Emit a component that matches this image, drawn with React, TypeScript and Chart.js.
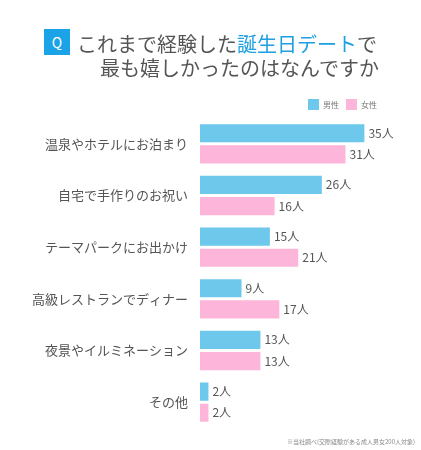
import React, { useEffect, useRef } from "react";
import { Chart, registerables } from "chart.js";

Chart.register(...registerables);

const categories = [
  "温泉やホテルにお泊まり",
  "自宅で手作りのお祝い",
  "テーマパークにお出かけ",
  "高級レストランでディナー",
  "夜景やイルミネーション",
  "その他",
];
const maleValues = [35, 26, 15, 9, 13, 2];
const femaleValues = [31, 16, 21, 17, 13, 2];
const seriesNames = ["男性", "女性"];
const unit = "人";

const BLUE = "#6DC8EC";
const PINK = "#FDB6D9";
const FONT = "'Noto Sans CJK JP', 'Noto Sans', sans-serif";

const valueLabels = {
  id: "valueLabels",
  afterDatasetsDraw(chart: any) {
    const ctx = chart.ctx;
    ctx.save();
    ctx.font = `12px ${FONT}`;
    ctx.fillStyle = "#555";
    ctx.textAlign = "left";
    ctx.textBaseline = "middle";
    chart.data.datasets.forEach((ds: any, di: number) => {
      const meta = chart.getDatasetMeta(di);
      meta.data.forEach((bar: any, i: number) => {
        ctx.fillText(`${ds.data[i]}${unit}`, bar.x + 3, bar.y);
      });
    });
    ctx.restore();
  },
};

export default function App() {
  const ref = useRef<HTMLCanvasElement>(null);
  useEffect(() => {
    const chart = new Chart(ref.current!, {
      type: "bar",
      data: {
        labels: categories,
        datasets: [
          {
            label: seriesNames[0],
            data: maleValues,
            backgroundColor: BLUE,
            borderColor: "#ffffff",
            borderWidth: 1,
            categoryPercentage: 0.82,
            barPercentage: 0.95,
          },
          {
            label: seriesNames[1],
            data: femaleValues,
            backgroundColor: PINK,
            borderColor: "#ffffff",
            borderWidth: 1,
            categoryPercentage: 0.82,
            barPercentage: 0.95,
          },
        ],
      },
      options: {
        indexAxis: "y",
        responsive: false,
        animation: false,
        layout: { padding: { top: 118, bottom: 22, left: 0, right: 32 } },
        plugins: {
          legend: { display: false },
          tooltip: { enabled: false },
          title: { display: false },
        },
        scales: {
          x: { display: false, min: 0, max: 40 },
          y: {
            grid: { display: false, drawTicks: false },
            border: { display: false },
            ticks: {
              padding: 12,
              color: "#555",
              font: { family: FONT, size: 13 },
            },
            afterFit: (scale: any) => {
              scale.width = 200;
            },
          },
        },
      },
      plugins: [valueLabels],
    });
    return () => chart.destroy();
  }, []);

  return (
    <div
      style={{
        position: "absolute",
        left: 0,
        top: 0,
        width: 421,
        height: 450,
        background: "#fff",
        fontFamily: FONT,
        overflow: "hidden",
      }}
    >
      <canvas ref={ref} width={421} height={450} style={{ position: "absolute", left: 0, top: 0 }} />
      <div
        style={{
          position: "absolute",
          left: 44,
          top: 29,
          width: 26,
          height: 26,
          background: "#1BA3E8",
          color: "#fff",
          fontSize: 14,
          lineHeight: "26px",
          textAlign: "center",
        }}
      >
        Q
      </div>
      <div
        style={{
          position: "absolute",
          left: 77,
          top: 30,
          fontSize: 20,
          lineHeight: "28px",
          color: "#555",
          whiteSpace: "nowrap",
        }}
      >
        これまで経験した<span style={{ color: "#1EA0E2" }}>誕生日デート</span>で
      </div>
      <div
        style={{
          position: "absolute",
          left: 100,
          top: 54,
          fontSize: 20,
          lineHeight: "28px",
          color: "#555",
          whiteSpace: "nowrap",
        }}
      >
        最も嬉しかったのはなんですか
      </div>
      <div
        style={{
          position: "absolute",
          left: 308,
          top: 99,
          display: "flex",
          alignItems: "center",
          fontSize: 8,
          color: "#777",
          whiteSpace: "nowrap",
        }}
      >
        <span style={{ display: "inline-block", width: 11, height: 11, background: BLUE, marginRight: 4 }} />
        <span style={{ marginRight: 7 }}>{seriesNames[0]}</span>
        <span style={{ display: "inline-block", width: 11, height: 11, background: PINK, marginRight: 4 }} />
        <span>{seriesNames[1]}</span>
      </div>
      <div
        style={{
          position: "absolute",
          right: 6,
          top: 438,
          fontSize: 6,
          lineHeight: "8px",
          color: "#888",
          whiteSpace: "nowrap",
        }}
      >
        ※当社調べ(交際経験がある成人男女200人対象)
      </div>
    </div>
  );
}
